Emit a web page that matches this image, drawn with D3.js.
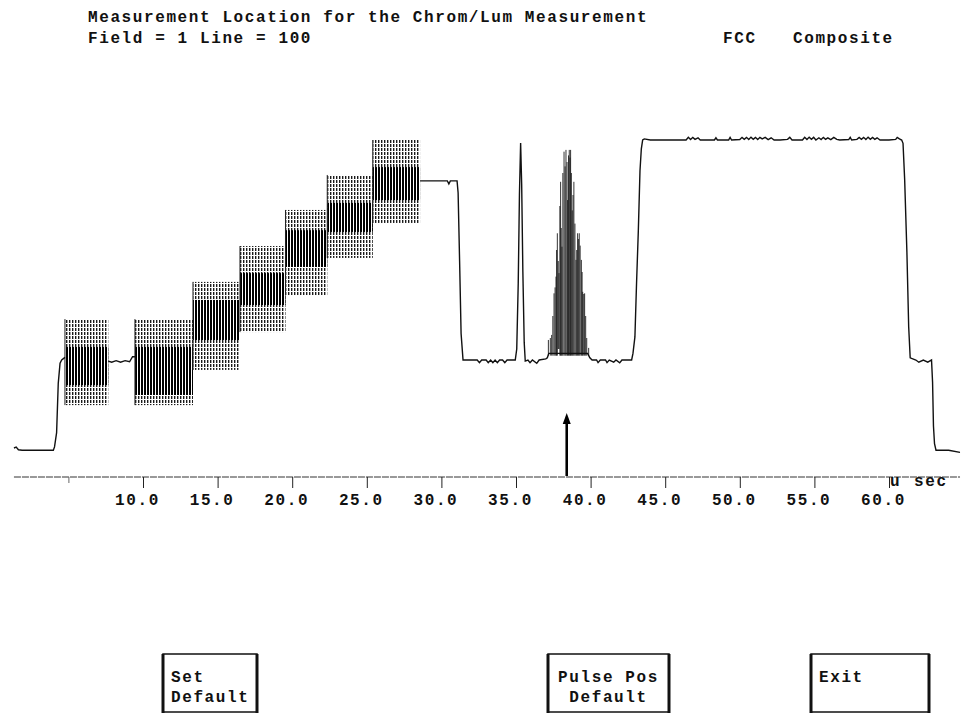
<!DOCTYPE html>
<html><head><meta charset="utf-8">
<script src="https://cdn.jsdelivr.net/npm/d3@7"></script>
<style>
body{margin:0;background:#fff;}
svg text{font-family:"Liberation Mono",monospace;font-weight:bold;font-size:16px;letter-spacing:1.6px;fill:#111;}
</style>
</head><body>
<svg id="c" width="968" height="713"></svg>
<script>
// ---------- data ----------
const titleLeft = ["Measurement Location for the Chrom/Lum Measurement", "Field = 1 Line = 100"];
const titleRight = ["FCC", "Composite"];
const tickValues = [10, 15, 20, 25, 30, 35, 40, 45, 50, 55, 60];
const minorTicks = [5];
const unitLabel = ["u", "sec"];
const markerT = 38.4;   // pulse position arrow (µs)

// luminance trace: time (µs) / level (IRE); null = gap under chroma packets
const traceT = [1.35,1.5,1.65,1.9,3.99,4.07,4.21,4.32,4.44,4.55,4.77,
  4.8,
  7.67,7.9,8.2,8.5,8.8,9.1,9.3,9.46,
  9.5,
  28.57,28.8,30.4,30.5,30.6,31.05,31.12,31.22,31.32,31.45,
  32.4,32.55,32.7,33.0,33.14,33.3,33.45,33.6,33.75,33.9,34.1,34.25,34.4,34.95,
  35.05,35.15,35.23,35.31,35.38,35.46,35.55,35.62,
  35.8,35.94,36.1,36.39,36.55,37.0,37.1,37.2,39.8,39.95,
  40.1,40.4,40.5,40.65,41.0,41.1,41.25,41.55,41.7,41.95,42.1,42.75,
  42.84,42.97,43.08,43.2,43.31,43.4,43.49,
  43.6,44.0,46.4,46.55,46.7,46.85,47.0,47.2,47.35,48.3,48.4,48.5,49.25,49.35,49.45,
  50.0,50.15,50.3,50.45,50.6,50.75,50.9,51.05,51.2,51.35,51.5,51.7,51.9,52.1,52.3,52.7,
  53.2,53.35,53.5,54.2,54.35,54.5,54.65,54.8,54.95,55.1,55.3,55.45,55.6,55.75,55.9,56.1,56.3,56.5,56.7,
  57.3,57.4,57.5,57.85,58.0,58.15,58.3,58.45,58.6,58.75,58.9,59.05,59.2,59.4,60.0,60.45,60.55,60.7,
  60.85,60.94,61.05,61.2,61.32,61.42,61.8,62.0,62.3,62.6,62.85,62.92,62.98,63.05,63.15,64.0,64.76];
const traceV = [-40,-39.6,-40.8,-41,-41,-39.5,-33,-10.6,-1.5,0,1.2,
  null,
  -0.5,-1,-0.3,-1,-0.3,-0.8,1.5,1.5,
  null,
  81.4,81.4,81.4,80,81.4,81.4,76,45,12,0,
  0,-1.2,0,0,-1.2,0,-1.2,0,-1.2,0,0,-1.2,0,0,
  5,35,75,98.6,80,40,8,-0.5,
  0,-1.2,0,-1.5,0,0.5,1,3,3,1,
  0,0,-1.2,0,0,-1.2,0,-1,0,-1.3,0,0,
  3,10.5,35,59,86,96,100,
  100.5,100,100,101.2,100.2,101.2,100.3,101,100,100,101,100,100,101.2,100,
  100.2,101.2,100.3,101.2,100.2,101.3,100.3,101.2,100.2,101.2,100.5,101.2,100.2,101,100,100,
  100.3,101.2,100,100,101.2,100.2,101.3,100.3,101.2,100,101,100.2,101.2,100.3,101,100.2,101.2,100.3,100,
  100.2,101.2,100,100.3,101.2,100.3,101.2,100.2,101.3,100.3,101.2,100.3,101,100,100,100.3,101.2,100.5,
  100,98.5,82,49,15,1,0,-1,0,-1,0,-10,-30,-38,-41,-41,-42];

// chroma packets (burst + modulated staircase), IRE
const packetStart = [4.77, 9.46, 13.35, 16.5, 19.55, 22.35, 25.4];
const packetEnd   = [7.67, 13.35, 16.5, 19.55, 22.35, 25.4, 28.57];
const packetHi    = [18.6, 18.6, 35.5, 51.8, 68.2, 84.1, 100];
const packetLo    = [-20.5, -20.5, -4.5, 12.7, 29.5, 46.4, 62.3];
const bandHi      = [5.9, 5.9, 27.3, 39.5, 59, 71.4, 87.7];
const bandLo      = [-11.4, -15.9, 9.1, 25, 42.3, 58.2, 72.7];

// 12.5T modulated pulse strokes
const pulseT  = [37.17,37.3,37.39,37.47,37.55,37.62,37.68,37.72,37.77,37.83,37.88,37.94,37.99,38.03,38.08,38.14,38.22,38.29,38.35,38.42,38.46,38.52,38.57,38.62,38.66,38.71,38.77,38.82,38.88,38.95,39.02,39.07,39.13,39.18,39.24,39.3,39.38,39.43,39.47,39.54,39.6,39.67,39.74,39.87];
const pulseHi = [9.1,10,11.4,20,30.3,33,37.9,50,57.6,45,39.5,70,81,60,51.5,85,94.7,88,95.5,90,72.7,93,95.5,92,95.5,85,68,75,81,62,45.5,50,57.6,55,57.6,52,45.5,40,31,30,30.3,20,10,5.5];
const pulseLo = [2,2,2,2,2,2,2,2,2,5,5,2,2,2,2,2,2,2,2,2,2,2,2,2,2,2,2,2,2,2,2,2,2,2,2,2,2,2,2,2,2,2,2,2];

const buttons = [
  {lines:["Set","Default"], x0:163, x1:257, align:"start"},
  {lines:["Pulse Pos","Default"], x0:548, x1:669, align:"middle"},
  {lines:["Exit"], x0:811, x1:929, align:"start"}
];

// ---------- drawing ----------
const svg = d3.select("#c");
const x = d3.scaleLinear().domain([10, 60]).range([143, 889]);
const y = d3.scaleLinear().domain([0, 100]).range([360, 140]);
const axisY = 477;

const defs = svg.append("defs");
const pOuter = defs.append("pattern").attr("id","outer").attr("patternUnits","userSpaceOnUse")
  .attr("width",3).attr("height",4);
pOuter.append("rect").attr("x",0).attr("y",0).attr("width",1.4).attr("height",3).attr("fill","#1a1a1a");
const pBand = defs.append("pattern").attr("id","band").attr("patternUnits","userSpaceOnUse")
  .attr("width",3).attr("height",3);
pBand.append("rect").attr("x",0).attr("y",0).attr("width",2).attr("height",3).attr("fill","#000");

// titles
svg.selectAll("text.tl").data(titleLeft).enter().append("text")
  .attr("x",88).attr("y",(d,i)=>22+i*21).text(d=>d);
svg.append("text").attr("x",723).attr("y",43).text(titleRight[0]);
svg.append("text").attr("x",793).attr("y",43).text(titleRight[1]);

// chroma packets
const packets = packetStart.map((s,i)=>({s, e:packetEnd[i], hi:packetHi[i], lo:packetLo[i], bh:bandHi[i], bl:bandLo[i]}));
const pg = svg.append("g");
pg.selectAll("rect.o").data(packets).enter().append("rect")
  .attr("x",d=>x(d.s)).attr("width",d=>x(d.e)-x(d.s))
  .attr("y",d=>y(d.hi)).attr("height",d=>y(d.lo)-y(d.hi))
  .attr("fill","url(#outer)");
pg.selectAll("rect.b").data(packets).enter().append("rect")
  .attr("x",d=>x(d.s)).attr("width",d=>x(d.e)-x(d.s))
  .attr("y",d=>y(d.bh)).attr("height",d=>y(d.bl)-y(d.bh))
  .attr("fill","url(#band)");
pg.selectAll("line.e").data(packets).enter().append("line")
  .attr("x1",d=>x(d.s)).attr("x2",d=>x(d.s))
  .attr("y1",d=>y(d.hi)).attr("y2",d=>y(d.lo))
  .attr("stroke","#222").attr("stroke-width",1);

// luminance trace
const trace = traceT.map((t,i)=>({t, v:traceV[i]}));
svg.append("path").datum(trace)
  .attr("d", d3.line().defined(d=>d.v!==null).x(d=>x(d.t)).y(d=>y(d.v)))
  .attr("fill","none").attr("stroke","#111").attr("stroke-width",1.4);

// 12.5T pulse strokes
svg.append("g").selectAll("line").data(pulseT.map((t,i)=>({t,hi:pulseHi[i],lo:pulseLo[i]}))).enter()
  .append("line")
  .attr("x1",d=>x(d.t)).attr("x2",d=>x(d.t))
  .attr("y1",d=>y(d.hi)).attr("y2",d=>y(d.lo))
  .attr("stroke","#111").attr("stroke-width",0.85);

// axis
const ext = d3.extent(traceT);
svg.append("line").attr("x1",x(ext[0])).attr("x2",x(ext[1])).attr("y1",axisY).attr("y2",axisY)
  .attr("stroke","#333").attr("stroke-width",1).attr("stroke-dasharray","7,1");
const ax = svg.append("g").attr("transform",`translate(0,${axisY})`)
  .call(d3.axisBottom(x).tickValues(tickValues).tickFormat(d3.format(".1f")).tickSize(11).tickPadding(0));
ax.select(".domain").remove();
ax.selectAll(".tick line").attr("stroke","#222");
ax.selectAll(".tick text").attr("y",28).attr("dy",0).attr("dx",-6)
  .style("font-family",'"Liberation Mono",monospace').style("font-size","16px").style("font-weight","bold").attr("fill","#111");
const ax2 = svg.append("g").attr("transform",`translate(0,${axisY})`)
  .call(d3.axisBottom(x).tickValues(minorTicks).tickFormat("").tickSize(6));
ax2.select(".domain").remove();
ax2.selectAll(".tick line").attr("stroke","#666");

svg.append("text").attr("x",x(60)+1).attr("y",486).text(unitLabel[0]);
svg.append("text").attr("x",x(60)+25).attr("y",486).text(unitLabel[1]);

// pulse position marker
const mx = x(markerT);
svg.append("line").attr("x1",mx).attr("x2",mx).attr("y1",422).attr("y2",axisY-1)
  .attr("stroke","#000").attr("stroke-width",2.6);
svg.append("path").attr("d",`M${mx},413 L${mx-4},424 L${mx+4},424 Z`).attr("fill","#000");

// buttons
const bg = svg.selectAll("g.btn").data(buttons).enter().append("g");
bg.append("rect").attr("x",d=>d.x0).attr("y",654).attr("width",d=>d.x1-d.x0).attr("height",58)
  .attr("fill","none").attr("stroke","#111").attr("stroke-width",1.5);
bg.append("line").attr("x1",d=>d.x0).attr("x2",d=>d.x0).attr("y1",654).attr("y2",713)
  .attr("stroke","#111").attr("stroke-width",3);
bg.append("line").attr("x1",d=>d.x1).attr("x2",d=>d.x1).attr("y1",654).attr("y2",713)
  .attr("stroke","#111").attr("stroke-width",3);
bg.each(function(d){
  const g = d3.select(this);
  d.lines.forEach((l,i)=>{
    g.append("text")
      .attr("x", d.align==="middle" ? (d.x0+d.x1)/2 : d.x0+8)
      .attr("y", 682 + i*20)
      .attr("text-anchor", d.align)
      .text(l);
  });
});
</script>
</body></html>
